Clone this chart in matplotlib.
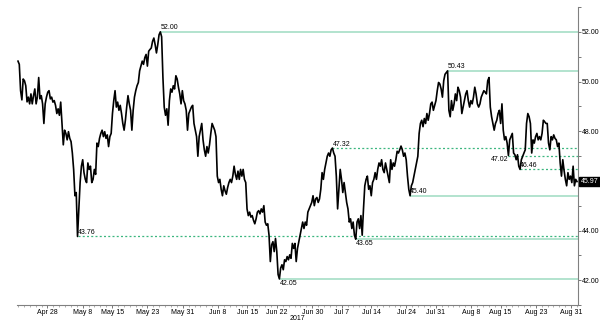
import numpy as np
import matplotlib
matplotlib.use("Agg")
import matplotlib.pyplot as plt
from matplotlib.transforms import blended_transform_factory

# ---------------- data ----------------
seg_apr_may = [50.82, 50.69, 49.63, 49.26, 50.10, 50.03, 49.83, 49.18, 49.37, 49.10,
               49.50, 49.10, 49.43, 49.70, 49.10, 49.38, 50.16, 49.30, 49.43, 49.10,
               48.31, 49.10, 49.37, 49.57, 49.63, 49.30, 49.37, 49.17, 49.23, 49.04,
               48.71, 48.90, 48.64, 49.17, 48.31, 47.45, 48.04, 47.91, 47.65, 47.98,
               47.71, 47.58, 47.12, 46.46, 45.40, 45.53, 43.76, 44.87, 45.93, 46.59,
               46.85, 46.33, 46.06, 45.93, 46.72, 46.46, 46.59, 45.93, 46.06, 46.46,
               46.26]
seg_may = [47.52, 47.38, 47.71, 47.91, 48.04, 47.78, 47.98, 47.71, 47.85, 47.38,
           47.78, 47.91, 48.71, 49.23, 49.63, 48.97, 49.17, 48.84, 49.04, 48.71,
           48.31, 48.04, 48.44, 48.97, 49.43, 49.10, 48.84, 48.04, 48.84, 49.37,
           49.63, 49.83, 49.96, 50.43, 50.62, 50.82, 50.69, 50.96, 51.09, 50.62,
           51.22, 51.29, 51.35, 51.62, 51.75, 51.48, 51.15, 51.48, 51.88, 52.00,
           51.80, 50.16, 48.97, 48.64, 48.90, 48.24, 49.23, 49.70, 49.57, 49.83,
           49.70, 50.23, 50.10]
seg_jun_a = [49.77, 49.50, 49.10, 49.63, 49.23, 49.10, 48.84, 48.04, 48.71, 48.84,
             48.97, 49.04, 48.31, 48.04, 47.78, 46.99, 47.78, 48.04, 48.31, 47.65,
             47.25, 46.99, 47.38, 47.12, 47.45, 47.91, 48.31, 48.18, 48.04, 47.78,
             46.19, 45.93, 46.06, 45.66, 45.40, 45.80, 45.60, 45.46, 45.73, 45.93,
             46.06, 45.93, 46.19, 46.59, 46.26, 46.06, 46.39, 46.06, 46.46, 46.19,
             46.46, 46.06, 45.93, 44.87, 44.60, 44.74, 44.54, 44.60, 44.41, 44.27,
             44.47]
seg_jun_b = [44.74, 44.80, 44.67, 44.87, 44.74, 45.00, 44.34, 44.21, 44.27, 43.81,
             42.75, 43.42, 43.55, 43.15, 43.68, 43.15, 42.23, 42.05, 42.49, 42.62,
             42.42, 42.82, 42.75, 42.95, 42.82, 43.02, 42.88, 43.48, 43.28, 43.48,
             42.75, 43.28, 43.55, 43.81, 44.08, 44.34, 44.08, 44.34, 44.21, 44.74,
             44.87, 45.00, 45.13, 45.40, 45.00, 45.27, 45.33, 45.13, 45.27, 45.66,
             46.33, 46.06, 46.46, 46.72, 46.99, 47.12, 46.99, 47.25, 47.32, 47.12,
             46.99, 46.19, 44.87, 45.66]
seg_jul = [46.46, 46.06, 45.53, 45.93, 45.53, 45.13, 44.87, 44.34, 44.47, 44.08,
           44.34, 43.81, 43.65, 44.34, 44.47, 44.08, 44.60, 43.81, 44.87, 45.80,
           46.06, 46.19, 45.66, 45.80, 45.40, 45.93, 46.06, 46.33, 46.06, 46.46,
           46.72, 46.59, 46.85, 46.46, 46.33, 46.72, 46.46, 46.19, 45.93, 46.85,
           46.46, 46.72, 46.59, 46.85, 47.19, 47.12, 47.25, 47.40, 47.25, 46.99,
           47.12, 46.85, 46.19, 45.66, 45.40, 45.80, 45.93, 46.19, 46.46, 46.72,
           46.99]
seg_aug_a = [47.91, 48.31, 48.44, 48.18, 48.51, 48.31, 48.71, 48.44, 48.71, 49.10,
             49.17, 48.84, 49.04, 49.23, 49.63, 49.96, 49.90, 49.70, 49.37, 50.03,
             50.29, 50.36, 50.43, 48.84, 48.58, 49.23, 48.84, 49.10, 49.50, 49.23,
             49.77, 49.63, 49.37, 48.71, 48.97, 49.23, 49.50, 49.63, 49.23, 48.97,
             49.23, 49.10, 49.37, 49.77, 49.50, 49.10, 48.97, 49.10, 49.37, 49.50,
             49.63, 49.57, 49.50, 50.03, 50.16, 48.97, 48.58, 48.31, 48.04, 48.31]
seg_aug_b = [48.44, 48.71, 48.84, 48.31, 49.10, 48.04, 47.65, 47.78, 47.52, 47.02,
             47.65, 47.78, 47.91, 47.12, 47.05, 46.85, 47.05, 46.59, 46.46, 46.85,
             46.99, 47.12, 47.25, 48.31, 48.71, 48.58, 48.31, 47.12, 47.65, 47.52,
             47.78, 47.91, 47.65, 47.78, 47.65, 47.91, 48.44, 48.38, 48.31, 48.31,
             47.52, 47.25, 47.78, 47.65, 47.85, 47.71, 47.65, 47.38, 47.52, 46.72,
             46.19, 46.85, 46.42, 46.06, 45.80, 46.33, 46.06, 46.19, 45.93, 46.59,
             45.80, 46.06, 45.97]

start_date = "2017-04-21"
end_date = "2017-09-01"
tick_dates = ["2017-04-28", "2017-05-08", "2017-05-15", "2017-05-23", "2017-05-31",
              "2017-06-08", "2017-06-15", "2017-06-22", "2017-06-30", "2017-07-07",
              "2017-07-14", "2017-07-24", "2017-07-31", "2017-08-08", "2017-08-15",
              "2017-08-23", "2017-08-31"]
tick_labels = ["Apr 28", "May 8", "May 15", "May 23", "May 31", "Jun 8", "Jun 15",
               "Jun 22", "Jun 30", "Jul 7", "Jul 14", "Jul 24", "Jul 31", "Aug 8",
               "Aug 15", "Aug 23", "Aug 31"]
year_label = "2017"

solid_levels = [52.00, 50.43, 45.40, 43.65, 42.05]
dashed_levels = [47.32, 47.02, 46.46, 43.76]
last_price = 45.97
y_major = [42, 44, 46, 48, 50, 52]
y_labels = ["42.00", "44.00", "", "48.00", "50.00", "52.00"]
y_minor = [41, 43, 45, 47, 49, 51, 53]

# ---------------- plot ----------------
price = np.array(seg_apr_may + seg_may + seg_jun_a + seg_jun_b + seg_jul + seg_aug_a + seg_aug_b)
n_days = int(np.busday_count(start_date, end_date))
x = np.linspace(0, n_days, len(price))
tick_pos = np.busday_count(start_date, tick_dates)

fig = plt.figure(figsize=(6, 3.22), dpi=100)
ax = fig.add_axes([17 / 600, 17 / 322, 561 / 600, 298 / 322])
pad = n_days * 1.0 / 559
xmin, xmax = -pad, n_days + pad
ax.set_xlim(xmin, xmax)
ax.set_ylim(41.17, 52.99)

FONT = "Liberation Sans"
FS = 5.0
solid_c = "#a6dec6"
dash_c = "#3bb67f"

def start_x(level):
    return x[np.where(np.isclose(price, level))[0][-1]]

for lv in solid_levels:
    ax.hlines(lv, start_x(lv), xmax, color=solid_c, lw=1.2, zorder=1)
for lv in dashed_levels:
    ax.hlines(lv, start_x(lv), xmax, color=dash_c, lw=0.9, linestyles=(0, (1.6, 1.8)), zorder=1)

ax.plot(x, price, color="black", lw=1.2, zorder=3)

# level labels
placement = {52.00: ("left", "bottom"), 50.43: ("left", "bottom"), 47.32: ("left", "bottom"),
             43.76: ("left", "bottom"), 45.40: ("left", "bottom"), 46.46: ("left", "bottom"),
             42.05: ("left", "top"), 43.65: ("left", "top"), 47.02: ("right", "top")}
for lv in solid_levels + dashed_levels:
    ha, va = placement[lv]
    dy = 0.3 if va == "bottom" else -0.6
    ax.annotate(f"{lv:.2f}", xy=(start_x(lv), lv), xytext=(0, dy), textcoords="offset points",
                ha=ha, va=va, fontsize=FS, family=FONT, color="black", zorder=4)

# axes styling
for s in ["left", "top"]:
    ax.spines[s].set_visible(False)
for s in ["bottom", "right"]:
    ax.spines[s].set_color("#808080")
    ax.spines[s].set_linewidth(0.8)

ax.yaxis.tick_right()
ax.set_yticks(y_major)
ax.set_yticklabels(y_labels, fontsize=FS, family=FONT)
ax.set_yticks(y_minor, minor=True)
ax.tick_params(axis="y", which="both", direction="out", length=2.0, width=0.6,
               color="#606060", pad=1.0, labelsize=FS)

ax.set_xticks(tick_pos)
ax.set_xticklabels(tick_labels, fontsize=FS, family=FONT)
ax.set_xticks(np.arange(0, n_days + 1), minor=True)
ax.tick_params(axis="x", which="major", direction="out", length=2.0, width=0.6,
               color="#606060", pad=1.0)
ax.tick_params(axis="x", which="minor", direction="out", length=1.5, width=0.5,
               color="#909090")

ax.text(0.5, -0.033, year_label, transform=ax.transAxes, ha="center", va="top",
        fontsize=FS, family=FONT)

# last price box
trans = blended_transform_factory(ax.transAxes, ax.transData)
ax.annotate(f"{last_price:.2f}", xy=(1, last_price), xycoords=trans, xytext=(1.8, 0),
            textcoords="offset points", ha="left", va="center", fontsize=FS, family=FONT,
            color="white", bbox=dict(boxstyle="square,pad=0.2", fc="black", ec="black"),
            annotation_clip=False)

fig.savefig("out.png", dpi=100, facecolor="white")
